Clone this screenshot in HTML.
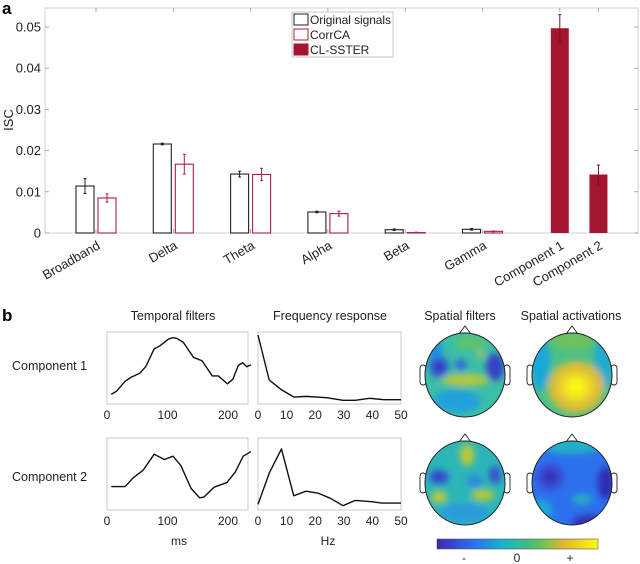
<!DOCTYPE html>
<html><head><meta charset="utf-8"><style>
html,body{margin:0;padding:0;background:#fff;}
svg{display:block;font-family:"Liberation Sans",Arial,sans-serif;}
</style></head><body>
<svg id="fig" width="640" height="564" viewBox="0 0 640 564" xmlns="http://www.w3.org/2000/svg">
<defs>
<filter id="bl" x="-50%" y="-50%" width="200%" height="200%"><feGaussianBlur stdDeviation="3.5"/></filter>
<clipPath id="hc1"><ellipse cx="465" cy="375" rx="40" ry="42"/></clipPath>
<clipPath id="hc2"><ellipse cx="572" cy="375" rx="40" ry="42"/></clipPath>
<clipPath id="hc3"><ellipse cx="465" cy="483" rx="40" ry="42"/></clipPath>
<clipPath id="hc4"><ellipse cx="572" cy="483" rx="40" ry="42"/></clipPath>
<linearGradient id="parula" x1="0" x2="1" y1="0" y2="0">
<stop offset="0" stop-color="#3e26a8"/><stop offset="0.2" stop-color="#2f66f4"/><stop offset="0.4" stop-color="#13b2d2"/><stop offset="0.6" stop-color="#4ac16d"/><stop offset="0.8" stop-color="#e5b92b"/><stop offset="1" stop-color="#f9fb0e"/>
</linearGradient>
</defs>
<text x="2" y="14" font-size="17" font-weight="bold">a</text>
<text x="2" y="321" font-size="17" font-weight="bold">b</text>
<g id="barchart"></g>
<g id="lines"></g>
<g id="heads"></g>
</svg>
<script>
const NS='http://www.w3.org/2000/svg';
const categories=['Broadband','Delta','Theta','Alpha','Beta','Gamma'];
const origVals=[0.0114,0.0216,0.0143,0.0051,0.0008,0.0009];
const origErr=[0.0018,0.0002,0.0007,0.0002,0.0002,0.0002];
const corrVals=[0.0085,0.0167,0.0142,0.0047,0.0001,0.0004];
const corrErr=[0.0010,0.0024,0.0015,0.0006,0.0001,0.0001];
const compLabels=['Component 1','Component 2'];
const compVals=[0.0497,0.0142];
const compErr=[0.0033,0.0023];
const yTicks=[0,0.01,0.02,0.03,0.04,0.05];
const yTickLabels=['0','0.01','0.02','0.03','0.04','0.05'];

const t1ms=[7,16,30,40,54,64,78,88,102,109,115,126,143,157,174,184,199,208,217,224,231,238];
const t1v=[0.10,0.15,0.30,0.36,0.42,0.52,0.79,0.84,0.94,0.96,0.95,0.89,0.66,0.61,0.38,0.38,0.26,0.33,0.54,0.58,0.52,0.55];
const t2ms=[7,30,43,60,78,95,109,122,139,153,160,177,198,212,225,238];
const t2v=[0.31,0.31,0.44,0.56,0.80,0.72,0.77,0.63,0.28,0.14,0.15,0.30,0.37,0.53,0.77,0.84];
const f1hz=[0,3.9,8.2,12.5,16.8,24,29.7,34,39,44,50];
const f1v=[1.0,0.32,0.17,0.06,0.07,0.05,0.01,0.01,0.04,0.02,0.02];
const f2hz=[0,3.9,8.2,12.5,16.8,21,25.4,29.7,34,39.7,43.3,50];
const f2v=[0.04,0.51,0.88,0.17,0.24,0.21,0.13,0.02,0.10,0.08,0.06,0.06];
const msTicks=[0,100,200];
const hzTicks=[0,10,20,30,40,50];

function el(tag,attrs,parent,text){const e=document.createElementNS(NS,tag);for(const k in attrs)e.setAttribute(k,attrs[k]);if(text!==undefined)e.textContent=text;parent.appendChild(e);return e;}

// ---------- bar chart ----------
const B=document.getElementById('barchart');
const X0=45,X1=638,Y0=8,YB=233;
const yS=v=>YB-v*(YB-27)/0.05;
const xC=i=>96+i*77.3;
el('rect',{x:X0,y:Y0,width:X1-X0,height:YB-Y0,fill:'none',stroke:'#c8c8c8','stroke-width':0.8},B);
const ylab=el('text',{x:13,y:120,'font-size':13,transform:'rotate(-90 13 120)','text-anchor':'middle',fill:'#222'},B,'ISC');

yTicks.forEach((t,i)=>{const y=yS(t);
 el('line',{x1:X0,x2:X0+4,y1:y,y2:y,stroke:'#888','stroke-width':0.7},B);
 el('line',{x1:X1,x2:X1-4,y1:y,y2:y,stroke:'#888','stroke-width':0.7},B);
 const tx=el('text',{x:41,y:y+4.5,'font-size':13,'text-anchor':'end',fill:'#222'},B,yTickLabels[i]);
 });
const allCenters=categories.map((c,i)=>xC(i)).concat([xC(6),xC(6.5)]);
const allLabels=categories.concat(compLabels);
allCenters.forEach((cx,i)=>{
 el('line',{x1:cx,x2:cx,y1:Y0,y2:Y0+4,stroke:'#888','stroke-width':0.7},B);
 el('line',{x1:cx,x2:cx,y1:YB,y2:YB-4,stroke:'#888','stroke-width':0.7},B);
 const t=el('text',{x:cx+5,y:YB+15,'font-size':13,'text-anchor':'end',fill:'#222',transform:`rotate(-30 ${cx+5} ${YB+15})`},B,allLabels[i]);
 });
function bar(cx,v,e,fill,stroke,name){
 const y=yS(v);
 const r=el('rect',{x:cx-9,y:y,width:18,height:YB-y,fill:fill,stroke:stroke,'stroke-width':1.1},B);
 
 const ec=stroke==='none'?'#7a1024':stroke;
 el('line',{x1:cx,x2:cx,y1:yS(v+e),y2:yS(v-e),stroke:ec,'stroke-width':1},B);
 el('line',{x1:cx-1.5,x2:cx+1.5,y1:yS(v+e),y2:yS(v+e),stroke:ec,'stroke-width':1},B);
 el('line',{x1:cx-1.5,x2:cx+1.5,y1:yS(v-e),y2:yS(v-e),stroke:ec,'stroke-width':1},B);
}
categories.forEach((c,i)=>{
 bar(xC(i)-11,origVals[i],origErr[i],'#fff','#222','bar-original-'+c.toLowerCase());
 bar(xC(i)+11,corrVals[i],corrErr[i],'#fff','#a8203c','bar-corrca-'+c.toLowerCase());
});
bar(xC(6),compVals[0],compErr[0],'#a31530','none','bar-component-1');
bar(xC(6.5),compVals[1],compErr[1],'#a31530','none','bar-component-2');
const lg=el('g',{},B);
el('rect',{x:292,y:12,width:101,height:45,fill:'#fff',stroke:'#bbb','stroke-width':0.8},lg);
[['Original signals','#fff','#222'],['CorrCA','#fff','#a8203c'],['CL-SSTER','#a31530','#a31530']].forEach((d,i)=>{
 const g=el('g',{},lg);
 el('rect',{x:294,y:14+i*15,width:14,height:11,fill:d[1],stroke:d[2],'stroke-width':1},g);
 el('text',{x:310,y:24+i*15,'font-size':12,fill:'#222',textLength:i==0?81:null},g,d[0]);
});

// ---------- line plots ----------
const L=document.getElementById('lines');
function title(x,y,t,n){const e=el('text',{x:x,y:y,'font-size':12.5,'text-anchor':'middle',fill:'#222'},L,t);}
title(173,320,'Temporal filters','temporal-filters-title');
title(330,320,'Frequency response','frequency-response-title');
title(460,320,'Spatial filters','spatial-filters-title');
title(571,320,'Spatial activations','spatial-activations-title');
[['Component 1',370],['Component 2',481]].forEach(d=>{const e=el('text',{x:12,y:d[1],'font-size':12.5,fill:'#222'},L,d[0]);});
function plot(x0,x1,y0,y1,xmax,xs,vs,ticks,name){
 const g=el('g',{},L);
 el('rect',{x:x0,y:y0,width:x1-x0,height:y1-y0,fill:'none',stroke:'#bdbdbd','stroke-width':0.8},g);
 const sx=v=>x0+v*(x1-x0)/xmax, sy=v=>y1-3-v*(y1-y0-6);
 ticks.forEach(t=>{const tx=el('text',{x:sx(t),y:y1+15,'font-size':12,'text-anchor':'middle',fill:'#222'},g,String(t));});
 const p=el('polyline',{points:xs.map((x,i)=>sx(x)+','+sy(vs[i])).join(' '),fill:'none',stroke:'#111','stroke-width':1.4,'stroke-linejoin':'round'},g);
 
}
plot(107,248,332,404,233,t1ms,t1v,msTicks,'temporal-filter-component-1');
plot(107,248,438,510,233,t2ms,t2v,msTicks,'temporal-filter-component-2');
plot(258,401,332,404,50,f1hz,f1v,hzTicks,'frequency-response-component-1');
plot(258,401,438,510,50,f2hz,f2v,hzTicks,'frequency-response-component-2');
[['ms',179],['Hz',328]].forEach(d=>{const e=el('text',{x:d[1],y:545,'font-size':12,'text-anchor':'middle',fill:'#222'},L,d[0]);});

// ---------- heads ----------
const H=document.getElementById('heads');
function head(cx,cy,clip,base,blobs,name){
 const g=el('g',{},H);
 el('path',{d:`M${cx-6} ${cy-41} L${cx} ${cy-49} L${cx+6} ${cy-41}`,fill:'#fff',stroke:'#222','stroke-width':0.9},g);
 el('rect',{x:cx-45,y:cy-10,width:6,height:20,rx:3,fill:'#fff',stroke:'#222','stroke-width':0.9},g);
 el('rect',{x:cx+39,y:cy-10,width:6,height:20,rx:3,fill:'#fff',stroke:'#222','stroke-width':0.9},g);
 const cg=el('g',{'clip-path':`url(#${clip})`},g);
 el('rect',{x:cx-42,y:cy-44,width:84,height:88,fill:base},cg);
 const bg=el('g',{filter:'url(#bl)'},cg);
 blobs.forEach(b=>el('ellipse',{cx:cx+b[0],cy:cy+b[1],rx:b[2],ry:b[3],fill:b[4]},bg));
 el('ellipse',{cx:cx,cy:cy,rx:40,ry:42,fill:'none',stroke:'#222','stroke-width':1},g);
}
head(465,375,'hc1','#3bbfa6',[[-26,-8,10,11,'#2f5fe0'],[-26,-8,5,6,'#3530b0'],[30,-8,9,14,'#3540c8'],[-4,-10,6,6,'#3068e0'],[0,5,24,6,'#b8c83a'],[-8,26,24,12,'#22a0dc'],[6,-32,16,7,'#60c26a'],[-32,-26,10,10,'#1e90e0'],[16,-20,3,3,'#e8c43a']],'spatial-filter-component-1');
head(572,375,'hc2','#4cc088',[[-32,-12,10,28,'#18a8d8'],[32,-12,10,28,'#20aad0'],[4,12,28,26,'#d8bc38'],[4,12,18,16,'#eed828'],[4,12,9,9,'#fbf816'],[0,-34,22,8,'#70c05c']],'spatial-activation-component-1');
head(465,483,'hc3','#2cb6b8',[[-26,-6,10,7,'#3550d8'],[-26,-6,4,3,'#3030b0'],[30,-8,6,9,'#3850d0'],[2,-28,7,11,'#c0c838'],[-26,14,8,6,'#c0c83a'],[18,12,12,6,'#b0c840'],[0,30,25,10,'#2a9cdc'],[10,-2,8,6,'#2c88e4']],'spatial-filter-component-2');
head(572,483,'hc4','#2d70ee',[[-22,-6,14,13,'#3a48d0'],[-22,-6,5,5,'#2c20a8'],[34,0,8,16,'#2e2cb0'],[0,-38,32,9,'#20b0c8'],[-32,28,12,12,'#1ea8d8'],[10,16,10,5,'#28b0c0'],[18,40,18,8,'#3030b0']],'spatial-activation-component-2');
const cb=el('rect',{x:437,y:539,width:161,height:10,fill:'url(#parula)',stroke:'#555','stroke-width':0.6},H);

[['-',464],['0',517],['+',570]].forEach(d=>{const e=el('text',{x:d[1],y:562,'font-size':12,'text-anchor':'middle',fill:'#222'},H,d[0]);});
</script>
</body></html>
